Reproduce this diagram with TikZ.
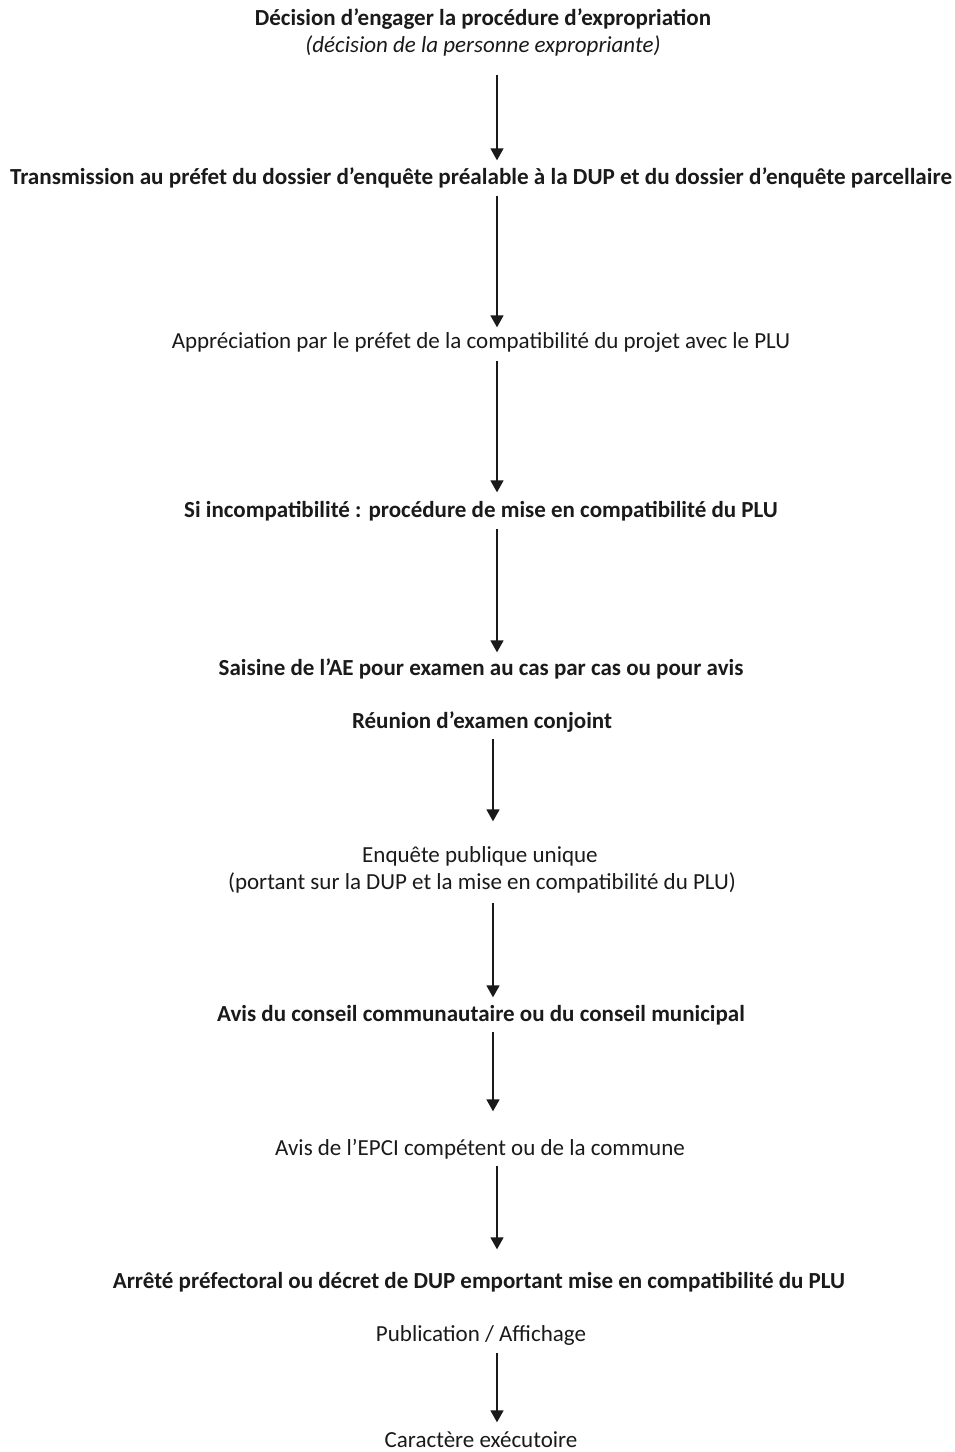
\documentclass[tikz,border=0pt]{standalone}
\usepackage{fontspec}
\setmainfont{Carlito}
\usetikzlibrary{arrows.meta}
\definecolor{ink}{HTML}{1A1A1A}
\tikzset{
  lbl/.style={inner sep=0pt, text=ink, font=\fontsize{23}{27}\selectfont, text height=16pt, text depth=5pt, anchor=center},
  blbl/.style={lbl, font=\fontsize{23}{27}\selectfont\bfseries},
  arr/.style={draw=ink, line width=1.7pt, -{Triangle[width=13pt,length=12pt]}}
}
\begin{document}
\begin{tikzpicture}[x=1pt,y=-1pt]
\path[fill=white,use as bounding box] (0,0) rectangle (955,1452);
\coordinate (ax) at (497,0);
\coordinate (bx) at (493,0);
\node[blbl] (n1) at (483,20) {Décision d’engager la procédure d’expropriation};
\node[lbl,font=\fontsize{23}{27}\selectfont\itshape] (n1b) at (483,47) {(décision de la personne expropriante)};
\node[blbl] (n2) at (481,179) {\resizebox{942pt}{\height}{Transmission au préfet du dossier d’enquête préalable à la DUP et du dossier d’enquête parcellaire}};
\node[lbl] (n3) at (481,343) {Appréciation par le préfet de la compatibilité du projet avec le PLU};
\node[blbl] (n4) at (481,512) {Si incompatibilité : procédure de mise en compatibilité du PLU};
\node[blbl] (n5) at (481,670) {Saisine de l’AE pour examen au cas par cas ou pour avis};
\node[blbl] (n6) at (482,723) {Réunion d’examen conjoint};
\node[lbl] (n7) at (480,857) {Enquête publique unique};
\node[lbl] (n7b) at (482,884) {(portant sur la DUP et la mise en compatibilité du PLU)};
\node[blbl] (n8) at (481,1016) {Avis du conseil communautaire ou du conseil municipal};
\node[lbl] (n9) at (480,1150) {Avis de l’EPCI compétent ou de la commune};
\node[blbl] (n10) at (479,1283) {Arrêté préfectoral ou décret de DUP emportant mise en compatibilité du PLU};
\node[lbl] (n11) at (481,1336) {Publication / Affichage};
\node[lbl] (n12) at (481,1442) {Caractère exécutoire};
\draw[arr, shorten <=17pt, shorten >=8pt] (n1b.south -| ax) -- (n2.north -| ax);
\draw[arr, shorten <=6pt, shorten >=5pt] (n2.south -| ax) -- (n3.north -| ax);
\draw[arr, shorten <=7pt, shorten >=9pt] (n3.south -| ax) -- (n4.north -| ax);
\draw[arr, shorten <=6pt, shorten >=7pt] (n4.south -| ax) -- (n5.north -| ax);
\draw[arr, shorten <=5pt, shorten >=25pt] (n6.south -| bx) -- (n7.north -| bx);
\draw[arr, shorten <=8pt, shorten >=8pt] (n7b.south -| bx) -- (n8.north -| bx);
\draw[arr, shorten <=5pt, shorten >=28pt] (n8.south -| bx) -- (n9.north -| bx);
\draw[arr, shorten <=5pt, shorten >=23pt] (n9.south -| ax) -- (n10.north -| ax);
\draw[arr, shorten <=6pt, shorten >=9pt] (n11.south -| ax) -- (n12.north -| ax);
\end{tikzpicture}
\end{document}
